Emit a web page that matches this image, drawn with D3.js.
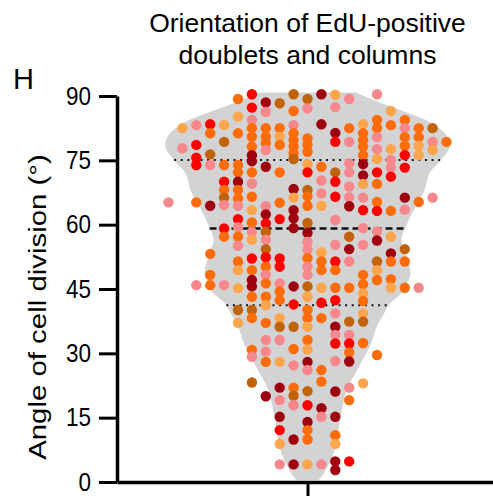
<!DOCTYPE html>
<html>
<head>
<meta charset="utf-8">
<script src="https://cdn.jsdelivr.net/npm/d3@7"></script>
<style>
  html, body { margin: 0; padding: 0; background: #fff; }
  svg { display: block; font-family: "Liberation Sans", Arial, Helvetica, sans-serif; }
</style>
</head>
<body>
<svg id="chart" width="493" height="499"></svg>
<script>
// Swarm lanes (horizontal slot of each point, 0 = centre of the violin)
const lanes = d3.range(-10, 11);

// Division angles (degrees) in each lane, top to bottom
const laneAngles = [
  [65.2],
  [82.5, 77.8],
  [83.2, 78.6, 75.6, 73.9, 65.2, 45.9],
  [83.4, 81.3, 76.4, 73.9, 64.4, 53.2, 48.3, 45.9],
  [83.2, 79.3, 73.9, 70.0, 68.1, 66.3, 64.6, 59.1, 57.2, 45.9],
  [89.3, 85.2, 81.3, 73.9, 72.2, 70.0, 68.1, 66.1, 64.4, 61.3, 59.4, 57.2, 55.1, 51.4, 49.4, 45.2, 40.1, 37.1],
  [90.4, 87.3, 84.4, 82.5, 80.5, 78.2, 76.2, 74.8, 72.2, 69.6, 66.5, 63.4, 60.5, 58.3, 56.5, 52.1, 49.4, 47.1, 45.6, 43.2, 40.1, 38.2, 30.8, 29.2, 23.2],
  [88.5, 86.3, 82.5, 80.5, 79.0, 77.4, 73.5, 64.3, 62.4, 60.3, 58.3, 56.5, 54.3, 52.4, 50.2, 48.3, 46.3, 43.2, 41.2, 37.1, 33.1, 30.4, 28.0, 20.0],
  [88.3, 82.5, 80.5, 78.6, 72.2, 65.1, 61.3, 52.1, 50.2, 46.3, 44.4, 42.4, 38.2, 36.2, 33.1, 28.0, 22.0, 19.1, 15.2, 12.1, 8.9, 4.1],
  [90.4, 86.5, 83.2, 81.3, 79.7, 78.2, 76.6, 75.3, 68.3, 66.3, 63.4, 61.5, 59.2, 45.6, 41.4, 36.2, 31.0, 27.2, 22.0, 20.1, 17.9, 9.9, 4.1],
  [89.3, 87.1, 80.1, 78.6, 77.0, 74.1, 72.2, 68.1, 66.6, 64.4, 60.4, 58.1, 56.0, 54.2, 52.2, 50.2, 48.3, 45.6, 43.2, 40.1, 38.2, 36.2, 33.1, 30.9, 28.0, 26.1, 21.2, 17.9, 14.0, 12.1, 9.9, 4.1],
  [90.4, 83.4, 73.5, 70.3, 67.3, 64.4, 53.5, 51.4, 49.4, 45.3, 41.8, 38.2, 26.1, 23.4, 17.2, 15.2, 4.1],
  [90.3, 87.4, 81.4, 79.3, 72.2, 70.0, 66.5, 61.1, 55.3, 51.4, 49.4, 45.3, 42.4, 39.3, 36.2, 34.3, 32.3, 28.2, 21.1, 15.2, 10.9, 8.9, 4.8, 2.8],
  [89.3, 82.5, 79.3, 74.3, 72.2, 68.9, 66.4, 64.3, 57.2, 54.3, 51.4, 45.3, 37.4, 34.3, 32.3, 30.2, 28.1, 22.0, 19.1, 4.8],
  [83.4, 81.3, 79.7, 78.2, 76.2, 74.1, 71.5, 69.5, 66.3, 63.4, 59.2, 55.3, 48.3, 46.1, 44.0, 42.2, 39.3, 37.4, 32.4, 23.0],
  [90.4, 84.4, 82.5, 80.4, 77.6, 75.3, 72.2, 69.5, 65.3, 63.2, 58.4, 56.3, 51.4, 49.4, 47.1, 29.6],
  [86.5, 83.2, 77.6, 75.1, 73.3, 71.2, 63.2, 57.2, 53.3, 51.4, 47.3, 45.3],
  [84.4, 82.5, 80.4, 78.4, 76.2, 73.3, 66.3, 63.5, 54.3, 51.4, 45.3],
  [82.5, 80.4, 78.4, 76.2, 65.3, 45.3],
  [82.5, 79.3, 77.4, 66.3],
  [79.3]
];

// Embryo of origin for each point, one letter per angle above
const laneEmbryos = [
  "P",
  "LP",
  "PRRROP",
  "ROBPDOOO",
  "LBOROBPROP",
  "OLOOODOOPRPOPOLLBL",
  "RRPOOODDOPOLOPLRODDOBOOPB",
  "DPOOOPDPDRBPBROPOOLOPPOD",
  "BOLOOORRRPOOLBPLDPDRLP",
  "BOPOOOOBDLDDDDRBOPOBPDD",
  "BPOOOLRBOOBDPPOPPBLOOLOLDPBRDOOL",
  "DDOPPLLOOLROOODPP",
  "LPDRBRRPPROORPDPRPDDOLDD",
  "POPPPPPDBDPOBPRODPOR",
  "LOOOODDLPRPPOOLOLBOL",
  "POOPPLROORPDBLOO",
  "LOLPPROLDOOL",
  "OPOORRDPBOO",
  "OOLLOP",
  "BPLP",
  "O"
];

const embryoCodes = ["R", "O", "D", "P", "L", "B"];
const embryoColors = ["#fe0000", "#fd6c0a", "#9e0010", "#f6878c", "#fca54c", "#c1620d"];

// Violin outline: kernel density (relative) at each angle
const violinAngles = [0.4, 1.5, 4, 6, 9.8, 13.7, 17.5, 21.4, 24.2, 28, 32, 36.6, 39, 41.5, 42.8, 44.5, 46.5, 48.7, 52.6, 56.5, 60.4, 64.2, 68, 72, 75, 78, 80.5, 83.7, 86.5, 88.5, 90.8];
const violinDensity = [0.077, 0.106, 0.148, 0.176, 0.208, 0.225, 0.246, 0.275, 0.317, 0.380, 0.444, 0.493, 0.535, 0.577, 0.620, 0.676, 0.704, 0.725, 0.697, 0.662, 0.704, 0.761, 0.824, 0.859, 0.937, 1.0, 0.986, 0.873, 0.669, 0.507, 0.338];

// Lower quartile, median, upper quartile
const quartiles = [41.2, 59.1, 75.1];

const yTicks = [0, 15, 30, 45, 60, 75, 90];
const titleLines = ["Orientation of EdU-positive", "doublets and columns"];
const yTitle = "Angle of cell division (°)";
const panelLetter = "H";

// ---------------------------------------------------------------------------
const svg = d3.select("#chart");
const axisX = 117;
const cx = 307.5;

const y = d3.scaleLinear().domain([0, 90]).range([482, 96]);
const xLane = d3.scaleLinear().domain([-10, 10]).range([cx - 139, cx + 139]);
const halfWidth = d3.scaleLinear().domain([0, 1]).range([0, 142]);
const densityAt = d3.scaleLinear().domain(violinAngles).range(violinDensity).clamp(true);
const color = d3.scaleOrdinal().domain(embryoCodes).range(embryoColors);

// Violin body
const violinData = violinAngles.map((a, i) => ({ a, d: violinDensity[i] }));
svg.append("path")
  .datum(violinData)
  .attr("fill", "#d3d3d3")
  .attr("d", d3.area()
    .y(d => y(d.a))
    .x0(d => cx - halfWidth(d.d))
    .x1(d => cx + halfWidth(d.d))
    .curve(d3.curveCatmullRom.alpha(0.5)));

// Median and quartile lines, spanning the violin at that angle
svg.append("g").selectAll("line")
  .data(quartiles)
  .join("line")
  .attr("x1", q => cx - halfWidth(densityAt(q)))
  .attr("x2", q => cx + halfWidth(densityAt(q)))
  .attr("y1", q => y(q))
  .attr("y2", q => y(q))
  .attr("stroke", "#111")
  .attr("stroke-width", (q, i) => i === 1 ? 2.6 : 2)
  .attr("stroke-dasharray", (q, i) => i === 1 ? "7,4" : "2,4.6");

// Points
const points = [];
lanes.forEach((lane, i) => {
  laneAngles[i].forEach((a, j) => points.push({ lane, a, g: laneEmbryos[i][j] }));
});
svg.append("g").selectAll("circle")
  .data(points)
  .join("circle")
  .attr("cx", d => xLane(d.lane))
  .attr("cy", d => y(d.a))
  .attr("r", 5.2)
  .attr("fill", d => color(d.g));

// Y axis
const gy = svg.append("g")
  .attr("transform", `translate(${axisX},0)`)
  .call(d3.axisLeft(y).tickValues(yTicks).tickSize(18).tickSizeOuter(0).tickPadding(8));
gy.attr("font-family", null).attr("font-size", null);
gy.select(".domain").attr("stroke", "#000").attr("stroke-width", 3.5);
gy.selectAll(".tick line").attr("stroke", "#000").attr("stroke-width", 3);
gy.selectAll(".tick text")
  .attr("fill", "#000")
  .attr("font-size", 22.5)
  .attr("transform", "scale(1,1.15)");

// X axis with a single centred tick
const xAxisScale = d3.scaleLinear()
  .domain([xLane.invert(axisX), xLane.invert(493)])
  .range([axisX, 493]);
const gx = svg.append("g")
  .attr("transform", `translate(0,${y(0)})`)
  .call(d3.axisBottom(xAxisScale).tickValues([0]).tickFormat(() => "").tickSize(14).tickSizeOuter(0));
gx.select(".domain").attr("stroke", "#000").attr("stroke-width", 3.5);
gx.selectAll(".tick line").attr("stroke", "#000").attr("stroke-width", 3);

// Axis title
svg.append("text")
  .attr("transform", "translate(46,307) scale(1,1.2) rotate(-90)")
  .attr("text-anchor", "middle")
  .attr("font-size", 24.5)
  .attr("fill", "#000")
  .text(yTitle);

// Chart title
svg.append("g").selectAll("text")
  .data(titleLines)
  .join("text")
  .attr("x", cx)
  .attr("y", (d, i) => 32 + i * 32)
  .attr("text-anchor", "middle")
  .attr("font-size", 26.5)
  .attr("fill", "#000")
  .text(d => d);

// Panel letter
svg.append("text")
  .attr("x", 13)
  .attr("y", 89)
  .attr("font-size", 29)
  .attr("fill", "#000")
  .text(panelLetter);
</script>
</body>
</html>
